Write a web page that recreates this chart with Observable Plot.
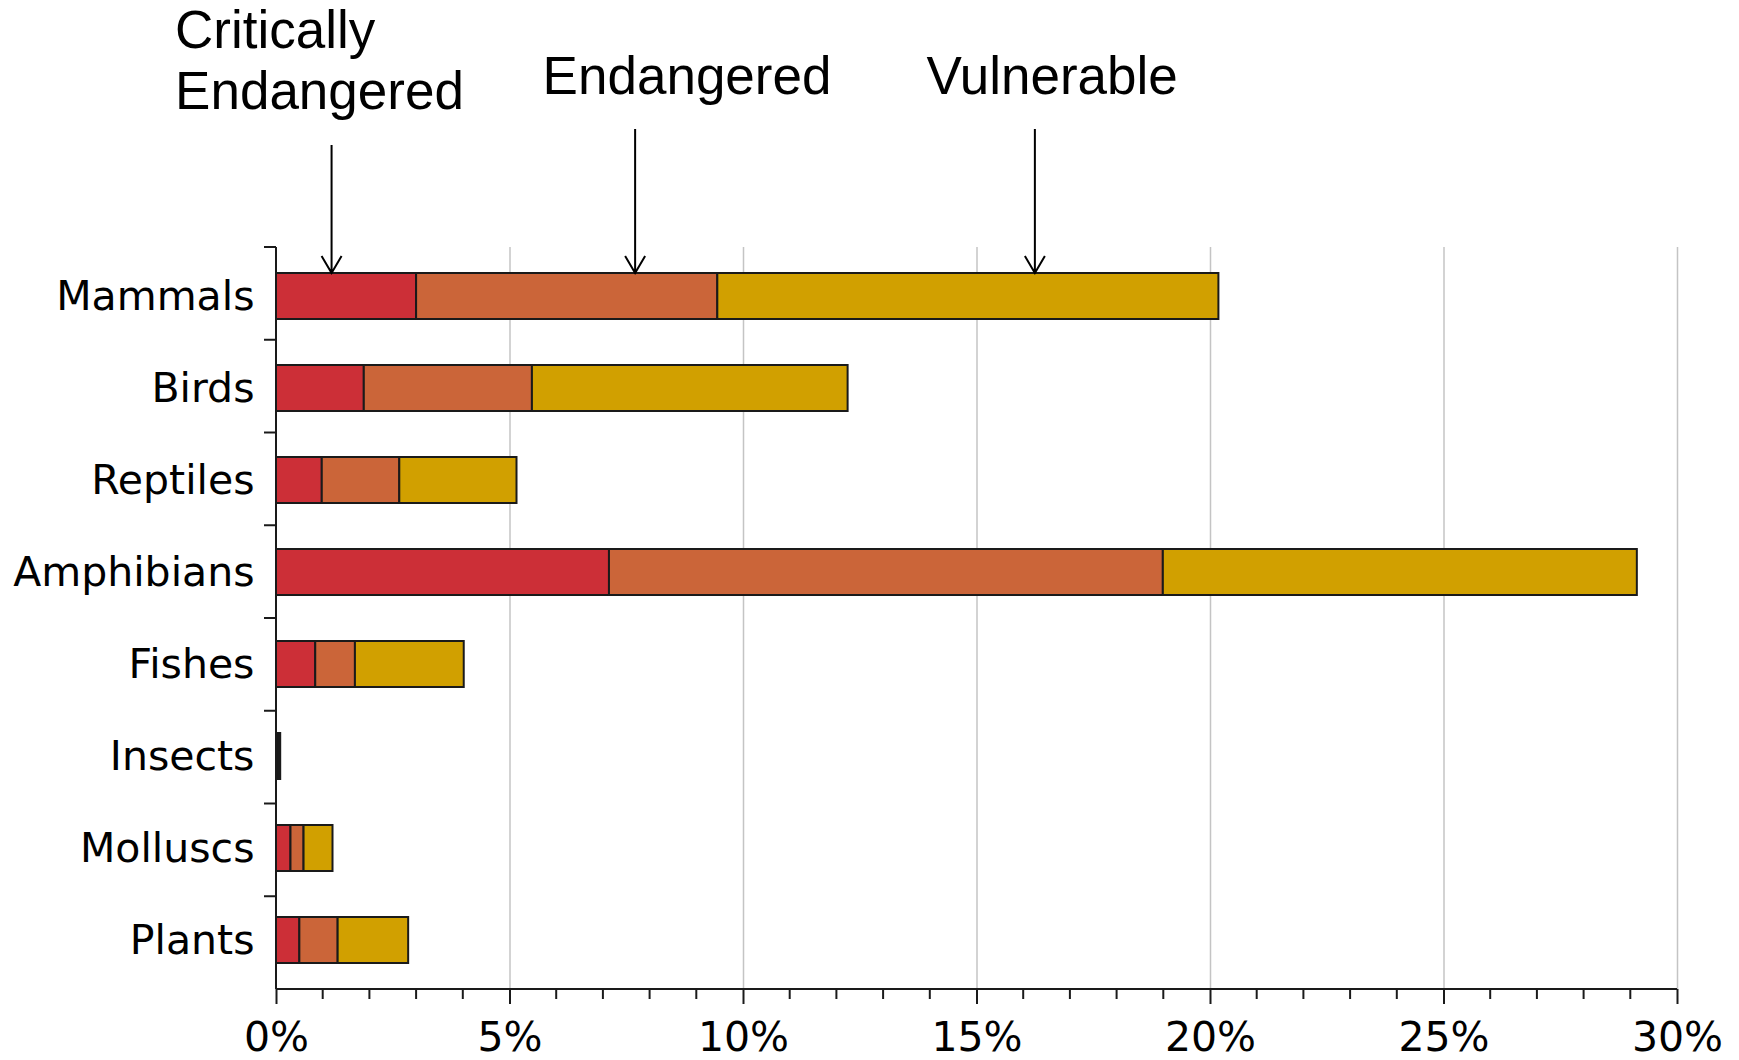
<!DOCTYPE html>
<html><head><meta charset="utf-8">
<script src="https://cdn.jsdelivr.net/npm/d3@7"></script>
<script src="https://cdn.jsdelivr.net/npm/@observablehq/plot@0.6"></script>
<style>html,body{margin:0;padding:0;background:#fff}</style>
</head><body><div id="chart"></div>
<script>
// ---- data ----
const categories = ["Mammals","Birds","Reptiles","Amphibians","Fishes","Insects","Molluscs","Plants"];
const statuses = ["Critically Endangered","Endangered","Vulnerable"];
const criticallyEndangered = [3.00, 1.88, 0.98, 7.13, 0.84, 0.02, 0.31, 0.50];
const endangered           = [6.45, 3.60, 1.66, 11.86, 0.85, 0.03, 0.28, 0.82];
const vulnerable           = [10.73, 6.76, 2.51, 10.15, 2.33, 0.04, 0.62, 1.51];
const xTicks = [0, 5, 10, 15, 20, 25, 30];
const xTickLabels = ["0%","5%","10%","15%","20%","25%","30%"];
const minorTicks = [1,2,3,4,6,7,8,9,11,12,13,14,16,17,18,19,21,22,23,24,26,27,28,29];
const annotationLabels = ["Critically\nEndangered","Endangered","Vulnerable"];
const annotationTargets = [1.19, 7.69, 16.25];

// ---- layout / style ----
const W = 1739, H = 1060;
const M = {top: 247, right: 62, bottom: 71, left: 276};
const colors = ["#cc2f37", "#cb6539", "#d1a000"];
const ink = "#1a1a1a";
const annoLayout = [
  {dx: -157, baseline: 41.5, shaftTop: 145},
  {dx: -93,  baseline: 87,   shaftTop: 129},
  {dx: -109, baseline: 87,   shaftTop: 129}
];
const annoFont = 53;

const seriesValues = [criticallyEndangered, endangered, vulnerable];
const table = [];
categories.forEach((c, i) => statuses.forEach((s, j) => table.push({category: c, status: s, value: seriesValues[j][i]})));
const annotations = annotationLabels.map((label, i) => ({label, target: annotationTargets[i]}));

function decorations(index, scales, values, dims) {
  const g = d3.create("svg:g").attr("stroke", ink).attr("fill", "none");
  const x = scales.x, y = scales.y;
  const x0 = x(0), yTop = dims.marginTop, yBot = dims.height - dims.marginBottom;
  const step = (yBot - yTop) / categories.length;
  g.append("line").attr("x1", x0).attr("x2", x0).attr("y1", yTop).attr("y2", yBot).attr("stroke-width", 2);
  g.append("line").attr("x1", x0).attr("x2", x(30)).attr("y1", yBot).attr("y2", yBot).attr("stroke-width", 2);
  for (let i = 0; i < categories.length; i++) {
    const yy = yTop + i * step;
    g.append("line").attr("x1", x0 - 12).attr("x2", x0).attr("y1", yy).attr("y2", yy).attr("stroke-width", 2);
  }
  minorTicks.forEach(t => {
    g.append("line").attr("x1", x(t)).attr("x2", x(t)).attr("y1", yBot).attr("y2", yBot + 10).attr("stroke-width", 2);
  });
  const tipY = y(categories[0]);
  annotations.forEach((a, i) => {
    const ax = x(a.target);
    g.append("path")
      .attr("d", `M${ax},${annoLayout[i].shaftTop}V${tipY}M${ax - 10},${tipY - 17}L${ax},${tipY}L${ax + 10},${tipY - 17}`)
      .attr("stroke", "#000").attr("stroke-width", 2);
  });
  return g.node();
}

const textMarks = annotations.map((a, i) => Plot.text([a], {
  x: "target", text: "label", frameAnchor: "top", textAnchor: "start", lineAnchor: "top",
  dx: annoLayout[i].dx, dy: annoLayout[i].baseline - 0.71 * annoFont - M.top,
  fontSize: annoFont, fontFamily: "Liberation Sans, Arial, sans-serif", lineHeight: 1.16, fill: "#000"
}));

const chart = Plot.plot({
  width: W, height: H,
  marginTop: M.top, marginRight: M.right, marginBottom: M.bottom, marginLeft: M.left,
  style: {fontFamily: "DejaVu Sans, sans-serif", background: "#fff", color: "#000", overflow: "visible"},
  x: {domain: [0, 30], axis: null, label: null},
  y: {domain: categories, paddingInner: 0.5, paddingOuter: 0.25, axis: null, label: null},
  color: {domain: statuses, range: colors},
  marks: [
    Plot.gridX(xTicks.filter(d => d > 0), {stroke: "#c4c4c4", strokeOpacity: 1, strokeWidth: 1.5}),
    Plot.barX(table, Plot.stackX({x: "value", y: "category", fill: "status", stroke: ink, strokeWidth: 2})),
    decorations,
    Plot.axisX(xTicks, {tickSize: 15, tickPadding: 17, strokeWidth: 2, stroke: ink, fontSize: 41, fill: "#000", label: null,
      tickFormat: d => xTickLabels[xTicks.indexOf(d)]}),
    Plot.axisY({tickSize: 0, tickPadding: 22, fontSize: 41, fill: "#000", label: null}),
    ...textMarks
  ]
});
document.getElementById("chart").appendChild(chart);
</script>
</body></html>
